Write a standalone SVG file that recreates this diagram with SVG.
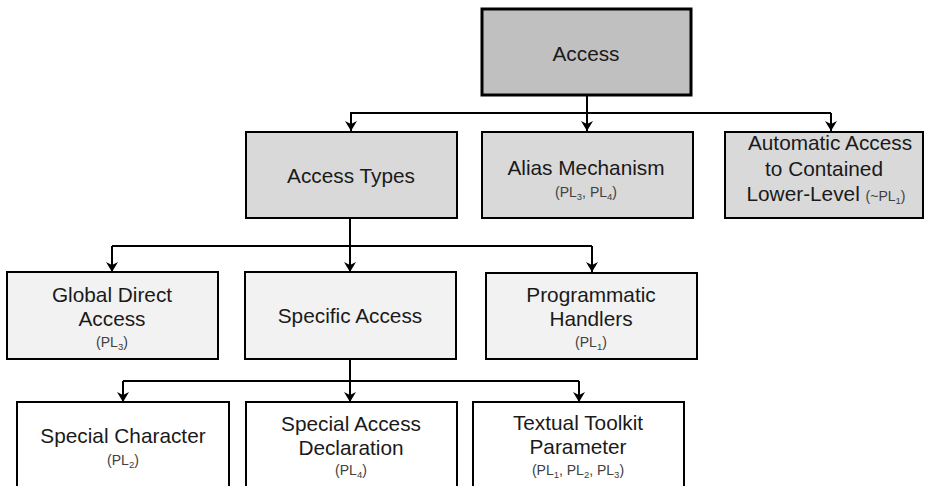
<svg xmlns="http://www.w3.org/2000/svg" width="925" height="486" viewBox="0 0 925 486">
  <style>
    .box { stroke: #000; stroke-width: 2; }
    .l0 { fill: #c0c0c0; stroke-width: 3; }
    .l1 { fill: #d9d9d9; }
    .l2 { fill: #f2f2f2; }
    .l3 { fill: #ffffff; }
    .lbl { font-family: "Liberation Sans", Arial, sans-serif; font-size: 20.8px; fill: #1a1a1a; text-anchor: middle; }
    .pl { font-family: "Liberation Sans", Arial, sans-serif; font-size: 14px; fill: #404040; text-anchor: middle; }
    .pls { font-size: 14px; fill: #404040; }
    .ix { font-size: 9.5px; }
    .conn { fill: none; stroke: #000; stroke-width: 2; }
  </style>
  <defs>
    <marker id="arrow" markerUnits="userSpaceOnUse" markerWidth="12" markerHeight="12" viewBox="0 -6 11 12" refX="10" refY="0" orient="auto">
      <path d="M0,-6 L10,0 L0,6 L3,0 z" fill="#000"/>
    </marker>
  </defs>

  <!-- connectors -->
  <g id="connectors">
    <path class="conn" d="M587,96 V113 M350,113 H831"/>
    <path class="conn" d="M351,113 V131" marker-end="url(#arrow)"/>
    <path class="conn" d="M587,113 V131" marker-end="url(#arrow)"/>
    <path class="conn" d="M831,113 V131" marker-end="url(#arrow)"/>

    <path class="conn" d="M350,219 V246 M112,246 H592"/>
    <path class="conn" d="M112,246 V272" marker-end="url(#arrow)"/>
    <path class="conn" d="M350,246 V272" marker-end="url(#arrow)"/>
    <path class="conn" d="M592,246 V272" marker-end="url(#arrow)"/>

    <path class="conn" d="M350,360 V381 M123,381 H579"/>
    <path class="conn" d="M123,381 V402" marker-end="url(#arrow)"/>
    <path class="conn" d="M350,381 V402" marker-end="url(#arrow)"/>
    <path class="conn" d="M579,381 V402" marker-end="url(#arrow)"/>
  </g>

  <!-- root -->
  <g id="access">
    <rect class="box l0" x="482" y="9" width="209" height="86"/>
    <text class="lbl" x="586" y="61">Access</text>
  </g>

  <!-- first level -->
  <g id="access-types">
    <rect class="box l1" x="246" y="132" width="211" height="86"/>
    <text class="lbl" x="351" y="183">Access Types</text>
  </g>
  <g id="alias-mechanism">
    <rect class="box l1" x="482" y="132" width="211" height="86"/>
    <text class="lbl" x="586" y="175">Alias Mechanism</text>
    <text class="pl" x="586" y="197">(PL<tspan class="ix" dy="3">3</tspan><tspan dy="-3">, PL</tspan><tspan class="ix" dy="3">4</tspan><tspan dy="-3">)</tspan></text>
  </g>
  <g id="automatic-access">
    <rect class="box l1" x="725" y="132" width="198" height="86"/>
    <text class="lbl" x="830" y="150">Automatic Access</text>
    <text class="lbl" x="824" y="175.5">to Contained</text>
    <text class="lbl" x="826" y="201">Lower-Level <tspan class="pls">(~PL</tspan><tspan class="pls ix" dy="3">1</tspan><tspan class="pls" dy="-3">)</tspan></text>
  </g>

  <!-- second level -->
  <g id="global-direct-access">
    <rect class="box l2" x="7" y="272" width="211" height="87"/>
    <text class="lbl" x="112" y="301.5">Global Direct</text>
    <text class="lbl" x="112" y="326">Access</text>
    <text class="pl" x="112" y="347">(PL<tspan class="ix" dy="3">3</tspan><tspan dy="-3">)</tspan></text>
  </g>
  <g id="specific-access">
    <rect class="box l2" x="245" y="272" width="211" height="87"/>
    <text class="lbl" x="350" y="323">Specific Access</text>
  </g>
  <g id="programmatic-handlers">
    <rect class="box l2" x="486" y="273" width="211" height="86"/>
    <text class="lbl" x="591" y="301.5">Programmatic</text>
    <text class="lbl" x="591" y="326">Handlers</text>
    <text class="pl" x="591" y="347">(PL<tspan class="ix" dy="3">1</tspan><tspan dy="-3">)</tspan></text>
  </g>

  <!-- third level -->
  <g id="special-character">
    <rect class="box l3" x="17" y="402" width="212" height="90"/>
    <text class="lbl" x="123" y="443">Special Character</text>
    <text class="pl" x="123" y="465">(PL<tspan class="ix" dy="3">2</tspan><tspan dy="-3">)</tspan></text>
  </g>
  <g id="special-access-declaration">
    <rect class="box l3" x="246" y="402" width="211" height="90"/>
    <text class="lbl" x="351" y="431">Special Access</text>
    <text class="lbl" x="351" y="455">Declaration</text>
    <text class="pl" x="351" y="475">(PL<tspan class="ix" dy="3">4</tspan><tspan dy="-3">)</tspan></text>
  </g>
  <g id="textual-toolkit-parameter">
    <rect class="box l3" x="473" y="402" width="211" height="90"/>
    <text class="lbl" x="578" y="430">Textual Toolkit</text>
    <text class="lbl" x="578" y="454">Parameter</text>
    <text class="pl" x="578" y="475">(PL<tspan class="ix" dy="3">1</tspan><tspan dy="-3">, PL</tspan><tspan class="ix" dy="3">2</tspan><tspan dy="-3">, PL</tspan><tspan class="ix" dy="3">3</tspan><tspan dy="-3">)</tspan></text>
  </g>
</svg>
